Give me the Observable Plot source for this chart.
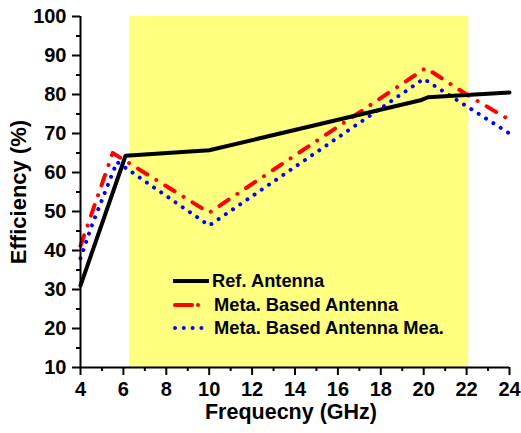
<!DOCTYPE html>
<html><head><meta charset="utf-8">
<script src="https://cdn.jsdelivr.net/npm/d3@7"></script>
<script src="https://cdn.jsdelivr.net/npm/@observablehq/plot@0.6"></script>
<style>
body{margin:0;background:#fff;}
#wrap{position:relative;width:521px;height:433px;font-family:"Liberation Sans",Arial,sans-serif;font-weight:bold;color:#000;}
#wrap > svg{position:absolute;left:0;top:0;}
.lab{position:absolute;white-space:nowrap;font-size:21.5px;line-height:1;font-weight:bold;}
.leg{position:absolute;left:173px;font-size:18.3px;line-height:1;display:flex;align-items:center;white-space:nowrap;font-weight:bold;}
.leg svg{display:block;margin-right:3px;}
</style></head><body><div id="wrap"></div>
<script>
// Data
const refFreq = [4, 6.1, 10, 19.9, 20.2, 24];
const refEff  = [31, 64.3, 65.7, 78.6, 79.3, 80.5];
const metaFreq = [4, 5.5, 10, 20.1, 22, 24];
const metaEff  = [41.2, 65, 49.7, 86.8, 80, 73.5];
const meaFreq = [4, 4.5, 5.7, 10, 20, 22, 24];
const meaEff  = [38, 46, 62.7, 46.4, 84, 77, 70];
const bandStart = [6.28];
const bandEnd = [22.1];
const xTicks = [4, 6, 8, 10, 12, 14, 16, 18, 20, 22, 24];
const xMinor = [5, 7, 9, 11, 13, 15, 17, 19, 21, 23];
const yTicks = [10, 20, 30, 40, 50, 60, 70, 80, 90, 100];
const yMinor = [15, 25, 35, 45, 55, 65, 75, 85, 95];
const seriesNames = ["Ref. Antenna", "Meta. Based Antenna", "Meta. Based Antenna Mea."];

const xDomain = [xTicks[0], xTicks[xTicks.length - 1]];
const yDomain = [yTicks[0], yTicks[yTicks.length - 1]];
const toRows = (fs, es) => fs.map((f, i) => ({f, e: es[i]}));
const ref = toRows(refFreq, refEff);
const meta = toRows(metaFreq, metaEff);
const mea = toRows(meaFreq, meaEff);
const band = bandStart.map((s, i) => ({s, e: bandEnd[i], lo: yDomain[0], hi: yDomain[1]}));

const chart = Plot.plot({
  width: 521, height: 433,
  marginLeft: 80, marginRight: 12, marginTop: 16, marginBottom: 66,
  x: {domain: xDomain},
  y: {domain: yDomain},
  style: {fontFamily: "Arial, 'Liberation Sans', sans-serif", fontWeight: "bold", fontSize: "20px", color: "#000", background: "transparent", overflow: "visible"},
  marks: [
    Plot.rect(band, {x1: "s", x2: "e", y1: "lo", y2: "hi", fill: "#ffff80"}),
    Plot.line(meta, {x: "f", y: "e", stroke: "#ff0000", strokeWidth: 4, strokeLinecap: "round", strokeDasharray: "11,10.5,0.01,10.5"}),
    Plot.line(mea, {x: "f", y: "e", stroke: "#0000ff", strokeWidth: 4, strokeLinecap: "round", strokeDasharray: "0.01,8.7"}),
    Plot.line(ref, {x: "f", y: "e", stroke: "#000", strokeWidth: 4}),
    Plot.axisX({ticks: xTicks, tickSize: 8, tickPadding: 6, strokeWidth: 2, label: null, fontSize: 20, fontWeight: "bold"}),
    Plot.axisX({ticks: xMinor, tickSize: 4, strokeWidth: 2, label: null, tickFormat: () => ""}),
    Plot.axisY({ticks: yTicks, tickSize: 8, tickPadding: 6, strokeWidth: 2, label: null, fontSize: 20, fontWeight: "bold"}),
    Plot.axisY({ticks: yMinor, tickSize: 4, strokeWidth: 2, label: null, tickFormat: () => ""}),
    Plot.ruleX([xDomain[0]], {strokeWidth: 2}),
    Plot.ruleY([yDomain[0]], {strokeWidth: 2})
  ]
});
chart.querySelectorAll("text").forEach(t => {
  t.style.fontWeight = "bold";
  t.style.fontSize = "20px";
  t.style.fontFamily = "Arial, 'Liberation Sans', sans-serif";
});
const wrap = document.getElementById("wrap");
wrap.appendChild(chart);

const ylab = document.createElement("div");
ylab.className = "lab";
ylab.textContent = "Efficiency (%)";
ylab.style.left = "19px"; ylab.style.top = "192px";
ylab.style.fontSize = "22px";
ylab.style.transform = "translate(-50%,-50%) rotate(-90deg)";
wrap.appendChild(ylab);

const xlab = document.createElement("div");
xlab.className = "lab";
xlab.textContent = "Frequecny (GHz)";
xlab.style.left = "291px"; xlab.style.top = "413px";
xlab.style.transform = "translate(-50%,-50%)";
wrap.appendChild(xlab);

const legStyles = [
  {stroke: "#000", dash: null, cap: "butt", w: 36},
  {stroke: "#ff0000", dash: "17,6,0.01,10", cap: "round", w: 38},
  {stroke: "#0000ff", dash: "0.01,8.8", cap: "round", w: 38}
];
const legY = [281, 305, 328];
seriesNames.forEach((name, i) => {
  const d = document.createElement("div");
  d.className = "leg";
  d.style.top = (legY[i] - 10) + "px";
  d.style.height = "20px";
  const st = legStyles[i];
  const x0 = st.cap === "round" ? 2 : 0;
  const x1 = st.cap === "round" ? st.w - 4 : st.w;
  d.innerHTML = `<svg width="${st.w}" height="20"><line x1="${x0}" x2="${x1}" y1="10" y2="10" stroke="${st.stroke}" stroke-width="4" stroke-linecap="${st.cap}" ${st.dash ? `stroke-dasharray="${st.dash}"` : ""}/></svg><span>${name}</span>`;
  wrap.appendChild(d);
});
</script>
</body></html>
